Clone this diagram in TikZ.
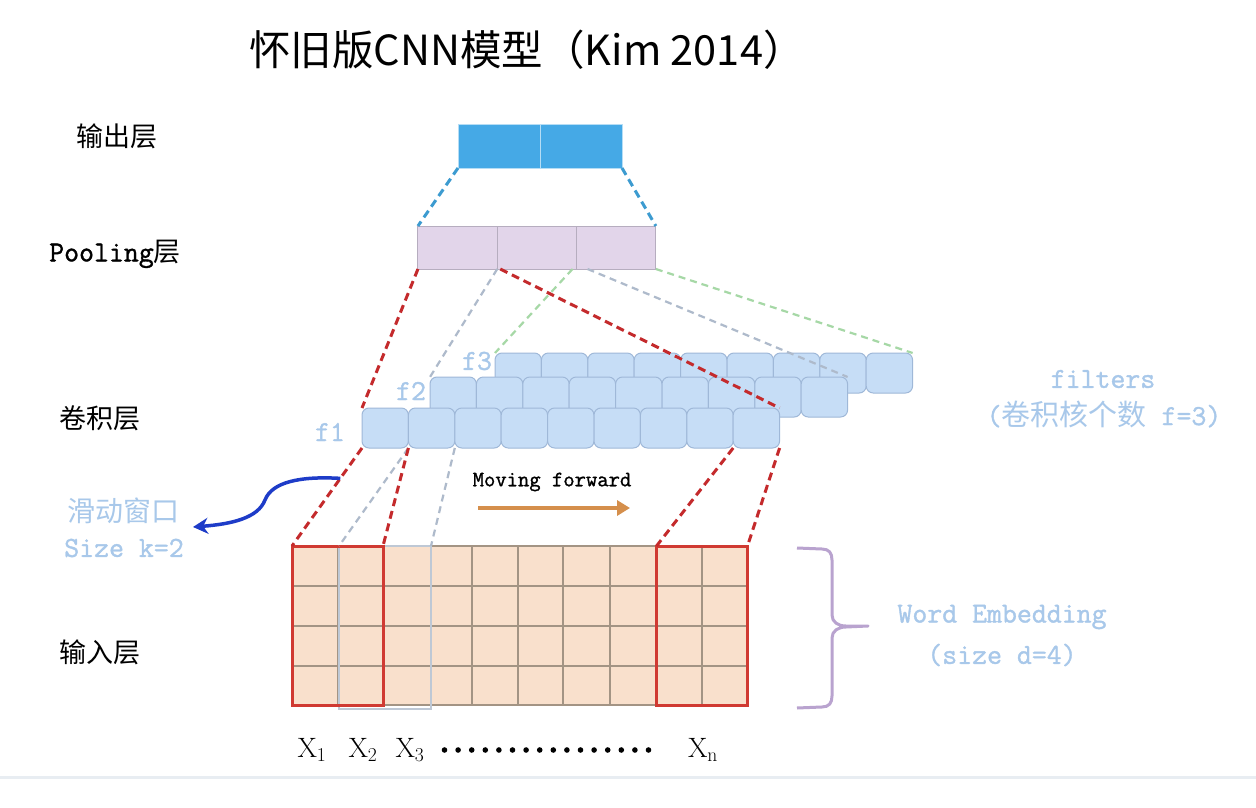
\documentclass[tikz,border=0pt]{standalone}
\usepackage{fontspec}
\newfontfamily\cjk{Noto Sans CJK SC}
\newfontfamily\monof{Latin Modern Mono}[FakeBold=1.2]
\usetikzlibrary{calc,arrows.meta}

\definecolor{outblue}{HTML}{45A9E6}
\definecolor{poolfill}{HTML}{E2D5EA}
\definecolor{poolline}{HTML}{B6ADBF}
\definecolor{convfill}{HTML}{C6DDF6}
\definecolor{convline}{HTML}{9FB8D8}
\definecolor{peach}{HTML}{F9E0CC}
\definecolor{gridc}{HTML}{A39484}
\definecolor{winred}{HTML}{D03A32}
\definecolor{dashred}{HTML}{C42A2C}
\definecolor{dashgray}{HTML}{AEBACB}
\definecolor{dashgreen}{HTML}{A6D8A6}
\definecolor{dashblue}{HTML}{3C9BD0}
\definecolor{softblue}{HTML}{A8C8EA}
\definecolor{bracec}{HTML}{B9A3CF}
\definecolor{movec}{HTML}{D58F4C}
\definecolor{slidec}{HTML}{1E3CC8}
\definecolor{sepc}{HTML}{E8EDF2}

\begin{document}
\begin{tikzpicture}[x=1pt,y=-1pt,
  every node/.style={inner sep=0pt,outer sep=0pt},
  title/.style={font=\cjk\fontsize{41.5}{44}\selectfont},
  layerlab/.style={font=\cjk\fontsize{27}{30}\selectfont},
  monolab/.style={font=\monof\fontsize{29}{32}\selectfont},
  tokenlab/.style={font=\rmfamily\fontsize{28}{30}\selectfont},
  outcell/.style={fill=outblue,draw=outblue!40!white,line width=1pt,minimum width=82pt,minimum height=44pt},
  poolcell/.style={fill=poolfill,draw=poolline,line width=1pt,minimum width=79.3pt,minimum height=43pt},
  convcell/.style={fill=convfill,draw=convline,line width=1pt,rounded corners=7pt,minimum width=46.4pt,minimum height=40pt},
  redwin/.style={draw=winred,line width=3pt,minimum width=91pt,minimum height=159pt},
  graywin/.style={draw=dashgray!80!white,line width=2.2pt,minimum width=92pt,minimum height=163pt},
  reddash/.style={draw=dashred,line width=3pt,dash pattern=on 8pt off 5pt},
  graydash/.style={draw=dashgray,line width=2.2pt,dash pattern=on 7pt off 5pt},
  greendash/.style={draw=dashgreen,line width=2.2pt,dash pattern=on 7pt off 5pt},
  bluedash/.style={draw=dashblue,line width=3pt,dash pattern=on 8pt off 5pt},
  gridline/.style={draw=gridc,line width=1.3pt}
]
\useasboundingbox[fill=white] (0,0) rectangle (1256,808);

% title
\node[title] (ttl) at (527,50) {怀旧版CNN模型（Kim 2014）};

% layer names
\node[layerlab] (l-out) at (117,136) {输出层};
\node[font=\fontsize{27}{30}\selectfont] (l-pool) at (115,254) {{\monof\fontsize{29}{32}\selectfont Pooling}{\cjk 层}};
\node[layerlab] (l-conv) at (100,418) {卷积层};
\node[layerlab] (l-in) at (100,652) {输入层};

% output layer
\node[outcell] (o1) at (499,146) {};
\node[outcell] (o2) at (581,146) {};

% pooling layer
\node[poolcell] (p1) at (457.6,247.5) {};
\node[poolcell] (p2) at (536.9,247.5) {};
\node[poolcell] (p3) at (616.2,247.5) {};

% convolution layer: three filter rows, back to front
\foreach \r/\xs/\yc in {3/495/373, 2/430/397, 1/362/428} {
  \foreach \k in {1,...,9} {
    \node[convcell] (c\r-\k) at ({\xs+46.4*(\k-0.5)},\yc) {};
  }
}
\node[monolab,text=softblue] (f1) at (330,432) {f1};
\node[monolab,text=softblue] (f2) at (411,391) {f2};
\node[monolab,text=softblue] (f3) at (477,361) {f3};

% input layer: embedding grid
\node[fill=peach,minimum width=456pt,minimum height=159pt] (inp) at (520,625.5) {};
\foreach \gx in {338,383,431,472,518,563,610,656,702}
  \draw[gridline] (\gx,546) -- (\gx,705);
\foreach \gy in {586,626,666}
  \draw[gridline] (292,\gy) -- (748,\gy);
\draw[gridline] (inp.north west) rectangle (inp.south east);

% sliding windows
\node[graywin] (win2) at (385,627.5) {};
\node[redwin] (win1) at (337.5,625.5) {};
\node[redwin] (winn) at (702,625.5) {};

% output <- pooling
\draw[bluedash] (o1.south west) -- (p1.north west);
\draw[bluedash] (o2.south east) -- (p3.north east);

% pooling <- filters
\draw[graydash] (p2.south west) -- (c2-1.north west);
\draw[greendash] ([xshift=-4pt]p3.south west) -- (c3-1.north west);
\draw[graydash] ([xshift=11pt]p3.south west) -- (c2-9.north east);
\draw[greendash] (p3.south east) -- (c3-9.north east);
\draw[reddash] (p1.south west) -- (c1-1.north west);
\draw[reddash] ([xshift=3pt]p2.south west) -- (c1-9.north east);

% filters <- input windows
\draw[graydash] (c1-1.south east) -- (win2.north west);
\draw[graydash] (c1-2.south east) -- (win2.north east);
\draw[reddash] (c1-1.south west) -- (win1.north west);
\draw[reddash] (c1-1.south east) -- (win1.north east);
\draw[reddash] (c1-8.south east) -- (winn.north west);
\draw[reddash] (c1-9.south east) -- (winn.north east);

% sliding window note
\node[font=\cjk\fontsize{28}{30}\selectfont,text=softblue] (sw1) at (123,511) {滑动窗口};
\node[monolab,text=softblue] (sw2) at (124,548) {Size k=2};
\coordinate (slide-s) at ($(c1-1.south west)!0.31!(win1.north west)$);
\coordinate (slide-e) at (193,527);
\draw[slidec,line width=3.5pt,-{Stealth[length=15pt,width=16pt]}]
  (slide-s) .. controls (300,476) and (272,482) .. (265,500)
  .. controls (258,518) and (232,524) .. (slide-e);

% moving direction
\node[font=\monof\fontsize{22}{24}\selectfont] (mv) at (552,482) {Moving forward};
\coordinate (mv-s) at (478,508);
\coordinate (mv-e) at (630,508);
\draw[movec,line width=3.5pt,-{Triangle[length=13pt,width=15pt]}] (mv-s) -- (mv-e);

% filters note
\node[monolab,text=softblue] (flt1) at (1103,379) {filters};
\node[font=\fontsize{29}{32}\selectfont,text=softblue] (flt2) at (1104,414)
  {{\monof(}{\cjk 卷积核个数}{\monof\ f=3)}};

% embedding brace and note
\draw[bracec,line width=3pt,line join=round]
  (797,548) -- (822,549) .. controls (829,549) and (832,553) .. (832,560)
  -- (832,615) .. controls (832,622) and (838,626) .. (846,626) -- (868,626)
  -- (846,627) .. controls (838,627) and (832,631) .. (832,638)
  -- (832,696) .. controls (832,703) and (829,707) .. (822,707) -- (797,708);
\node[monolab,text=softblue] (we1) at (1002,617) {Word Embedding};
\node[monolab,text=softblue] (we2) at (1002,655) {(size d=4)};

% token labels
\node[tokenlab] (x1) at (312,750) {X$_{\mathrm{1}}$};
\node[tokenlab] (x2) at (363,750) {X$_{\mathrm{2}}$};
\node[tokenlab] (x3) at (410,750) {X$_{\mathrm{3}}$};
\node[tokenlab] (xn) at (703,750) {X$_{\mathrm{n}}$};
\foreach \i in {0,...,15}
  \fill ({444.5+13.6*\i},750) circle (2.8pt);

% footer rule
\draw[sepc,line width=3pt] (0,777) -- (1256,777);
\end{tikzpicture}
\end{document}
